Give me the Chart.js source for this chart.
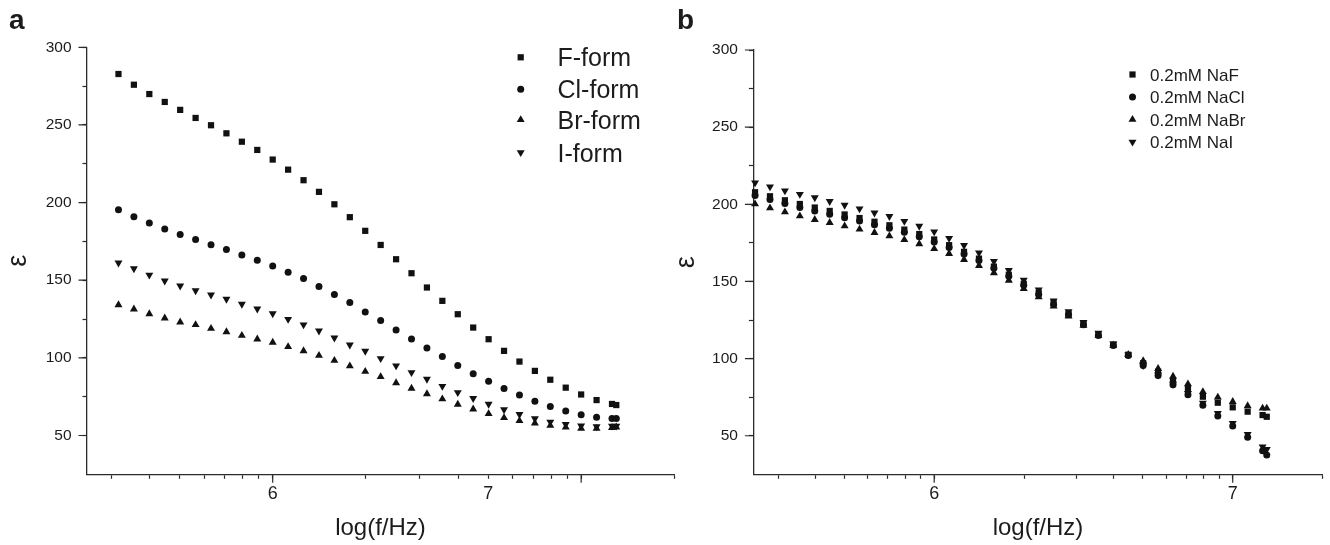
<!DOCTYPE html>
<html><head><meta charset="utf-8">
<script src="https://cdn.jsdelivr.net/npm/chart.js@4.4.1/dist/chart.umd.min.js"></script>
<style>
html,body{margin:0;padding:0;background:#fff;}
#wrap{position:relative;width:1330px;height:545px;overflow:hidden;background:#fff;}
#ca{position:absolute;left:0;top:0;}
#cb{position:absolute;left:670px;top:0;}
</style></head><body>
<div id="wrap">
<canvas id="ca" width="680" height="545"></canvas>
<canvas id="cb" width="660" height="545"></canvas>
</div>
<script>
// ---------- data ----------
const freqA = [316228, 354813, 398107, 446684, 501187, 562341, 630957, 707946, 794328, 891251,
  1000000, 1122018, 1258925, 1412538, 1584893, 1778279, 1995262, 2238721, 2511886, 2818383,
  3162278, 3548134, 3981072, 4466836, 5011872, 5623413, 6309573, 7079458, 7943282, 8912509,
  10000000, 11220185, 12589254, 13000000];
const freqB = [251189, 281838, 316228, 354813, 398107, 446684, 501187, 562341, 630957, 707946, 794328, 891251,
  1000000, 1122018, 1258925, 1412538, 1584893, 1778279, 1995262, 2238721, 2511886, 2818383,
  3162278, 3548134, 3981072, 4466836, 5011872, 5623413, 6309573, 7079458, 7943282, 8912509,
  10000000, 11220185, 12589254, 13000000];

const fForm  = [282.8, 275.9, 269.9, 264.8, 259.7, 254.5, 249.8, 244.6, 239.2, 233.9,
  227.7, 221.2, 214.4, 206.9, 198.9, 190.6, 181.8, 172.7, 163.5, 154.5,
  145.3, 136.7, 128.1, 119.5, 112.0, 104.5, 97.6, 91.6, 85.9, 80.8,
  76.4, 72.8, 70.3, 69.6];
const clForm = [195.3, 190.8, 186.9, 183.0, 179.4, 176.2, 172.9, 169.7, 166.3, 162.9,
  159.2, 155.2, 151.1, 145.9, 140.8, 135.6, 129.6, 124.0, 118.0, 112.2,
  106.4, 100.8, 95.1, 89.7, 84.9, 80.2, 76.0, 72.1, 68.7, 65.8,
  63.4, 61.8, 61.0, 61.0];
const brForm = [134.1, 131.4, 128.3, 125.6, 123.0, 121.3, 118.9, 116.7, 114.4, 112.0,
  109.9, 107.1, 104.5, 101.5, 98.3, 94.7, 91.2, 87.8, 83.9, 80.3,
  76.8, 73.5, 70.0, 67.0, 64.0, 61.4, 59.5, 57.9, 56.4, 55.3,
  54.6, 54.5, 55.0, 55.4];
const iForm  = [161.2, 157.5, 153.4, 149.6, 146.4, 143.3, 140.6, 137.8, 134.6, 131.6,
  128.5, 124.9, 121.3, 117.4, 112.9, 108.4, 104.3, 99.6, 94.9, 90.6,
  86.3, 81.7, 77.7, 73.9, 70.2, 66.7, 63.6, 60.9, 58.7, 57.2,
  56.2, 55.7, 56.1, 56.1];

const naF  = [207.8, 205.2, 202.6, 200.2, 197.9, 195.7, 193.4, 191.1, 188.7, 186.4,
  183.6, 180.7, 177.2, 173.5, 169.2, 164.8, 159.6, 154.3, 148.4, 142.5,
  136.0, 129.0, 122.5, 115.5, 109.0, 102.5, 97.0, 91.5, 86.0, 80.5,
  75.3, 71.4, 68.4, 65.6, 63.4, 62.3];
const naCl = [205.7, 203.1, 200.5, 198.0, 195.7, 193.6, 191.3, 189.1, 186.8, 184.5,
  181.8, 178.9, 175.6, 172.0, 167.8, 163.6, 158.5, 153.3, 147.5, 141.5,
  135.0, 128.5, 122.0, 115.0, 108.5, 102.0, 95.5, 89.0, 83.0, 76.5,
  69.7, 62.8, 56.3, 49.0, 40.3, 37.5];
const naBr = [200.2, 197.6, 195.0, 192.4, 190.0, 188.1, 185.9, 183.8, 181.6, 179.4,
  177.0, 174.3, 171.2, 168.0, 164.1, 160.2, 155.5, 150.7, 145.3, 140.0,
  134.0, 127.5, 121.5, 115.0, 108.5, 102.5, 98.5, 93.5, 88.5, 83.5,
  78.5, 74.9, 72.1, 69.3, 67.8, 67.8];
const naI  = [214.0, 211.4, 208.8, 206.5, 204.3, 201.9, 199.5, 197.1, 194.5, 192.2,
  189.0, 185.9, 182.2, 178.0, 173.4, 168.6, 163.0, 157.2, 150.9, 144.5,
  137.5, 130.5, 123.5, 116.5, 109.5, 102.5, 95.5, 89.5, 83.5, 77.5,
  71.2, 64.5, 58.1, 50.9, 42.9, 41.2];

const namesA = ['F-form', 'Cl-form', 'Br-form', 'I-form'];
const namesB = ['0.2mM NaF', '0.2mM NaCl', '0.2mM NaBr', '0.2mM NaI'];

const xTicks = [3e5, 4e5, 5e5, 6e5, 7e5, 8e5, 9e5, 1e6, 2e6, 3e6, 4e6, 5e6, 6e6, 7e6, 8e6, 9e6, 1e7, 2e7];
const xMajor = [1e6, 1e7];
const xLabelValsA = [1e6, 5e6];
const xLabelValsB = [1e6, 1e7];
const xLabelTexts = ['6', '7'];
const yTicks = [50, 75, 100, 125, 150, 175, 200, 225, 250, 275, 300];
const yMajor = [50, 100, 150, 200, 250, 300];

// ---------- styling ----------
const AX = '#2b2b2b';
const TXT = '#1c1c1c';
const MK = '#111111';
const FONT = 'Liberation Sans';

const decor = {
  id: 'decor',
  afterDraw(chart, args, o) {
    const ctx = chart.ctx;
    const xs = chart.scales.x, ys = chart.scales.y;
    ctx.save();
    ctx.strokeStyle = AX; ctx.lineWidth = 1.2;
    ctx.beginPath();
    xMajor.forEach(v => { const p = xs.getPixelForValue(v); ctx.moveTo(p, xs.top); ctx.lineTo(p, xs.top + 8.5); });
    yMajor.forEach(v => { const p = ys.getPixelForValue(v); ctx.moveTo(ys.right, p); ctx.lineTo(ys.right - 8.5, p); });
    ctx.stroke();
    ctx.fillStyle = TXT;
    ctx.textAlign = 'left'; ctx.textBaseline = 'alphabetic';
    ctx.font = 'bold 28px "' + FONT + '"';
    ctx.fillText(o.letter, o.letterX, o.letterY);
    ctx.font = o.legendSize + 'px "' + FONT + '"';
    chart.data.datasets.forEach((ds, i) => {
      const y = o.legendY[i];
      ctx.fillStyle = MK;
      Chart.helpers.drawPoint(ctx, {pointStyle: ds.pointStyle, radius: ds.pointRadius, rotation: ds.pointRotation || 0, borderWidth: 0}, o.markerX, y);
      ctx.fillStyle = TXT;
      ctx.fillText(ds.label, o.textX, y + o.baseOff);
    });
    ctx.restore();
  }
};

function mk(label, xs, ys, style, r, rot) {
  return {
    label: label,
    data: xs.map((x, i) => ({x: x, y: ys[i]})),
    pointStyle: style, pointRadius: r, pointHoverRadius: r, pointRotation: rot,
    backgroundColor: MK, borderColor: MK, pointBorderWidth: 0, borderWidth: 0,
    showLine: false, clip: false
  };
}

function scales(xMin, labelVals, yWidth, yTitlePad) {
  return {
    x: {
      type: 'logarithmic', position: 'bottom', min: xMin, max: 2e7, bounds: 'data',
      afterBuildTicks: s => { s.ticks = xTicks.map(v => ({value: v})); },
      afterFit: s => { s.height = 70.7; },
      grid: {display: true, drawOnChartArea: false, drawTicks: true, tickLength: 4.5, tickColor: AX, tickWidth: 1.2},
      border: {display: true, color: AX, width: 1.3},
      ticks: {autoSkip: false, maxRotation: 0, minRotation: 0, padding: 4, color: TXT,
        font: {family: FONT, size: 18},
        callback: v => { const k = labelVals.indexOf(v); return k >= 0 ? xLabelTexts[k] : ''; }},
      title: {display: true, text: 'log(f/Hz)', color: TXT, font: {family: FONT, size: 24}, padding: {top: 0, bottom: 2}}
    },
    y: {
      type: 'linear', position: 'left', min: 25, max: 300,
      afterBuildTicks: s => { s.ticks = yTicks.map(v => ({value: v})); },
      afterFit: s => { s.width = yWidth; },
      grid: {display: true, drawOnChartArea: false, drawTicks: true, tickLength: 4.5, tickColor: AX, tickWidth: 1.2},
      border: {display: true, color: AX, width: 1.3},
      ticks: {autoSkip: false, padding: 11, color: TXT, font: {family: FONT, size: 15.5},
        callback: v => (yMajor.indexOf(v) >= 0 ? String(v) : '')},
      title: {display: true, text: 'ε', color: TXT, font: {family: FONT, size: 27}, padding: {top: yTitlePad, bottom: 0}}
    }
  };
}

function build(canvas, xs, series, names, xMin, labelVals, yWidth, yTitlePad, pad, deco) {
  const styles = [['rect', 4.4, 0], ['circle', 3.5, 0], ['triangle', 4.6, 0], ['triangle', 4.6, 180]];
  return new Chart(canvas, {
    type: 'scatter',
    data: {datasets: series.map((s, i) => mk(names[i], xs, s, styles[i][0], styles[i][1], styles[i][2]))},
    options: {
      responsive: false, animation: false, devicePixelRatio: 1,
      layout: {padding: pad},
      plugins: {legend: {display: false}, tooltip: {enabled: false}, title: {display: false}, decor: deco},
      scales: scales(xMin, labelVals, yWidth, yTitlePad)
    },
    plugins: [decor]
  });
}

build(document.getElementById('ca'), freqA, [fForm, clForm, brForm, iForm], namesA, 2.5e5, xLabelValsA,
  87, 2.8, {top: 47.3, right: 6, bottom: 0, left: 0},
  {letter: 'a', letterX: 9, letterY: 29, legendSize: 25, legendY: [57.3, 89.3, 119.8, 152.5], markerX: 520.7, textX: 557.5, baseOff: 9});

build(document.getElementById('cb'), freqB, [naF, naCl, naBr, naI], namesB, 2.48e5, xLabelValsB,
  83.4, 0, {top: 50, right: 7.4, bottom: 0, left: 0},
  {letter: 'b', letterX: 7, letterY: 29, legendSize: 17, legendY: [74.5, 97, 119.5, 142], markerX: 462.5, textX: 480, baseOff: 6});
</script>
</body></html>
